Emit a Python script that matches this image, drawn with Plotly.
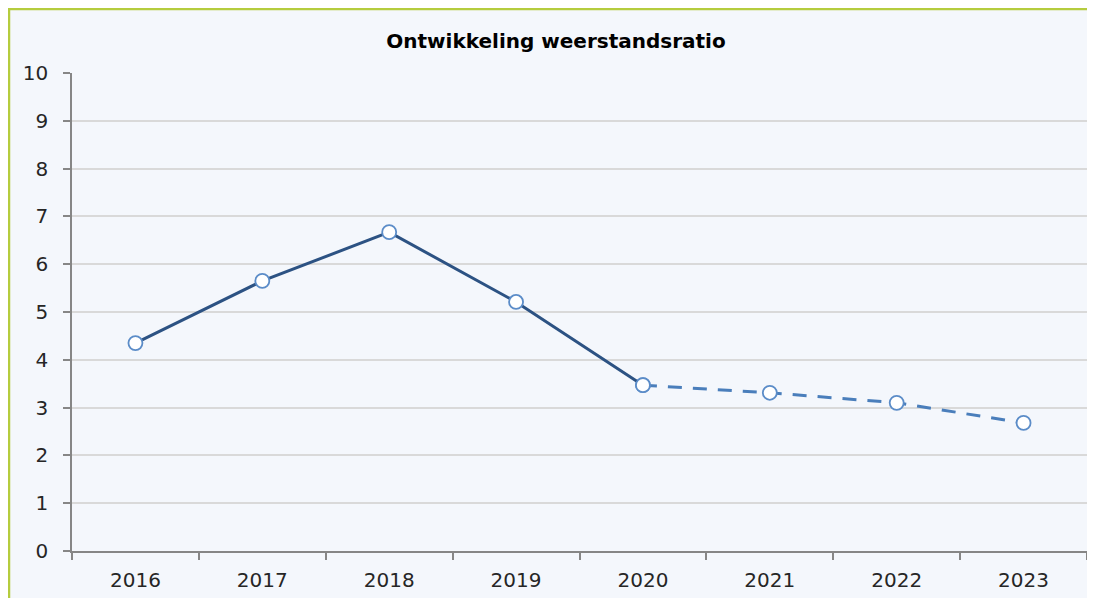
import plotly.graph_objects as go

years = ["2016", "2017", "2018", "2019", "2020", "2021", "2022", "2023"]
actual_years = ["2016", "2017", "2018", "2019", "2020"]
actual_values = [4.35, 5.65, 6.67, 5.21, 3.47]
forecast_years = ["2020", "2021", "2022", "2023"]
forecast_values = [3.47, 3.31, 3.10, 2.68]
y_ticks = list(range(0, 11))

marker = dict(size=14, color="white", line=dict(color="#5B8CC8", width=1.8))

fig = go.Figure()
fig.add_trace(go.Scatter(
    x=forecast_years, y=forecast_values, mode="lines+markers",
    line=dict(color="#4A7EBB", width=3, dash="14px,11px"),
    marker=marker, showlegend=False, cliponaxis=False))
fig.add_trace(go.Scatter(
    x=actual_years, y=actual_values, mode="lines+markers",
    line=dict(color="#2C5283", width=3),
    marker=marker, showlegend=False, cliponaxis=False))

# page has an 8px body margin; figure coords = page coords - 8
OFF = 8
L, T = 72 - OFF, 73 - OFF
pw, ph = 1087 - 72, 551 - 73
R, B = 0, 47
W, H = L + pw + R, T + ph + B

fig.add_shape(type="rect", xref="paper", yref="paper", layer="below",
              x0=(1 - L) / pw, x1=(W + 30 - L) / pw,
              y0=-(B + 30) / ph, y1=(T + ph - 1) / ph,
              fillcolor="#F4F7FC", line=dict(color="#B5CC3E", width=2.5))

fig.update_layout(
    width=W, height=H,
    margin=dict(l=L, r=R, t=T, b=B),
    paper_bgcolor="white", plot_bgcolor="rgba(0,0,0,0)",
    title=dict(text="<b>Ontwikkeling weerstandsratio</b>", xref="container", yref="container",
               x=(556 - OFF) / W, y=1 - (41 - OFF) / H, xanchor="center", yanchor="middle",
               font=dict(family="DejaVu Sans", size=20, color="black")),
    font=dict(family="DejaVu Sans", size=20, color="#262626"),
)
fig.update_xaxes(
    type="category", categoryorder="array", categoryarray=years,
    tickson="boundaries", ticks="outside", ticklen=7, tickcolor="#868686", tickwidth=1.5,
    showline=True, linecolor="#868686", linewidth=1.5, showgrid=False,
    ticklabelstandoff=10, range=[-0.5, len(years) - 0.5],
    tickfont=dict(size=20))
fig.update_yaxes(
    range=[0, 10], tickvals=y_ticks, ticks="outside", ticklen=7, tickcolor="#868686", tickwidth=1.5,
    showline=True, linecolor="#868686", linewidth=1.5,
    showgrid=True, gridcolor="#D9D9D9", gridwidth=1.5, zeroline=False,
    ticklabelstandoff=11, tickfont=dict(size=20))

fig.write_html("out.html")
